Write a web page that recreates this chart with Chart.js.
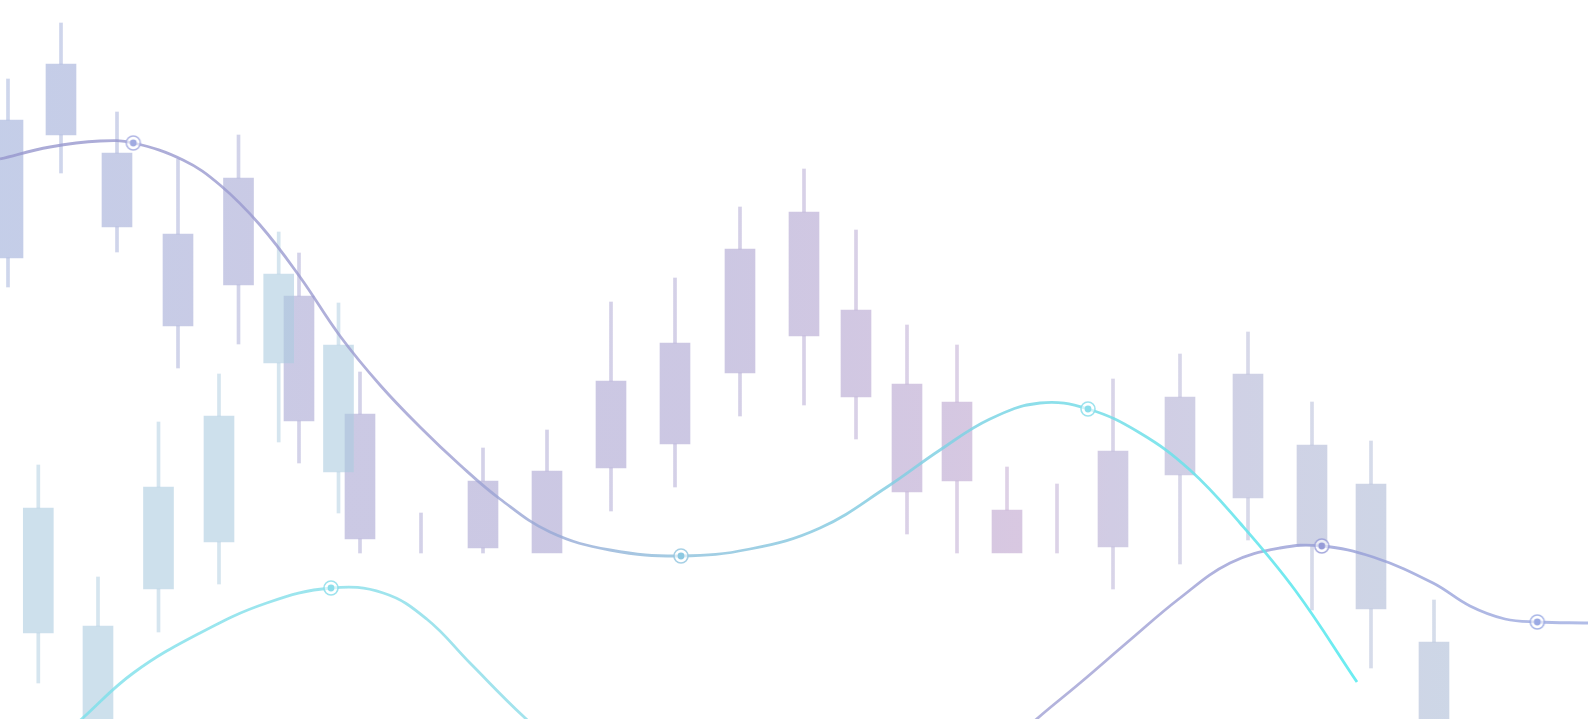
<!DOCTYPE html>
<html>
<head>
<meta charset="utf-8">
<script src="https://cdn.jsdelivr.net/npm/chart.js@4.4.1/dist/chart.umd.min.js"></script>
<style>
  html, body { margin: 0; padding: 0; background: #ffffff; overflow: hidden; }
  #wrap { width: 1588px; height: 719px; position: relative; }
</style>
</head>
<body>
<div id="wrap"><canvas id="c" width="1588" height="719"></canvas></div>
<script>
// ---- Data ----
// Main candle series (time units, price units)
const mainX     = [0.8, 6.1, 11.7, 17.8, 23.85, 29.9, 36.0, 42.1, 48.3, 54.7, 61.1, 67.5, 74.0, 80.4, 85.6, 90.7, 95.7, 100.7, 105.7, 111.3, 118.0, 124.8, 131.2, 137.1, 143.4];
const mainOpen  = [46.1, 58.4, 49.2, 39.3, 43.4, 29.8, 18.0, 16.6, 17.1, 16.6, 25.1, 27.5, 34.6, 38.3, 32.2, 22.7, 23.8, 16.6, 16.6, 17.2, 24.4, 22.1, 17.3, 11.0, -2.0];
const mainClose = [59.9, 65.5, 56.6, 48.5, 54.1, 42.3, 30.5, 16.6, 23.8, 24.8, 33.8, 37.6, 47.0, 50.7, 40.9, 33.5, 31.7, 20.9, 16.6, 26.8, 32.2, 34.5, 27.4, 23.5, 7.7];
const mainHigh  = [64.0, 69.6, 60.7, 56.0, 58.4, 46.6, 34.7, 20.6, 27.1, 28.9, 41.7, 44.1, 51.2, 55.0, 48.9, 39.4, 37.4, 25.2, 23.5, 34.0, 36.5, 38.7, 31.7, 27.8, 11.9];
const mainLow   = [43.2, 54.6, 46.7, 35.1, 37.5, 25.6, 16.6, 16.6, 16.6, 16.6, 20.8, 23.2, 30.3, 31.4, 28.0, 18.5, 16.6, 16.6, 16.6, 13.0, 15.5, 17.9, 10.9, 5.1, -6.0];

// Secondary (light) candle series
const lightX     = [3.83, 9.8, 15.85, 21.9, 27.87, 33.85];
const lightOpen  = [8.6, -3.0, 13.0, 17.7, 35.6, 24.7];
const lightClose = [21.1, 9.3, 23.2, 30.3, 44.5, 37.4];
const lightHigh  = [25.4, 14.2, 29.7, 34.5, 48.7, 41.6];
const lightLow   = [3.6, -7.0, 8.7, 13.5, 27.7, 20.6];

// Smooth line A
const lineAX = [0, 5, 10, 13.33, 18.3, 22, 26, 30, 34, 38, 42, 46, 50, 55, 61, 68.1, 75, 82, 88.7, 94, 99, 104, 108.8, 114, 119, 124, 129.5, 135.7];
const lineAY = [56.0, 57.2, 57.8, 57.6, 55.9, 53.4, 49.4, 44.2, 38.3, 33.4, 29.2, 25.4, 22.0, 18.7, 16.9, 16.3, 17.0, 19.1, 23.2, 26.9, 30.0, 31.6, 31.0, 28.6, 24.9, 19.6, 12.9, 3.7];
const lineAMarkers = [3, 15, 22];

// Smooth line B
const lineBX = [2, 8.17, 13.33, 20, 26.67, 33.1, 38.33, 42.67, 47, 52.3, 60, 70, 80, 90, 97, 103.67, 108, 113, 118, 123, 128, 132.17, 137.3, 143.3, 147, 150.5, 153.73, 158.8];
const lineBY = [-5.5, 0.0, 4.6, 8.6, 11.6, 13.1, 12.6, 10.0, 5.6, 0.3, -6.5, -12.0, -14.0, -11.0, -6.0, 0.0, 3.6, 7.9, 12.1, 15.6, 17.1, 17.3, 16.2, 13.6, 11.3, 10.0, 9.7, 9.6];
const lineBMarkers = [5, 21, 26];

// ---- Build datasets ----
function seg(x, a, b) { return a === b ? { x, y: null } : { x, y: [Math.min(a, b), Math.max(a, b)] }; }
function bodies(xs, o, c) { return xs.map((x, i) => seg(x, o[i], c[i])); }
function upper(xs, o, c, h) { return xs.map((x, i) => seg(x, Math.max(o[i], c[i]), h[i])); }
function lower(xs, o, c, l) { return xs.map((x, i) => seg(x, l[i], Math.min(o[i], c[i]))); }
function pts(xs, ys) { return xs.map((x, i) => ({ x, y: ys[i] })); }

const gradCache = {};
function hGrad(chart, key, stops) {
  const a = chart.chartArea;
  if (!a) return stops[0][1];
  const k = key + ':' + a.left + ':' + a.right;
  if (!gradCache[k]) {
    const g = chart.ctx.createLinearGradient(a.left, 0, a.right, 0);
    stops.forEach(([o, col]) => g.addColorStop(o, col));
    gradCache[k] = g;
  }
  return gradCache[k];
}

const mainStops = [
  [0.00, 'rgba(157,173,217,0.6)'],
  [0.10, 'rgba(162,170,214,0.6)'],
  [0.20, 'rgba(168,165,210,0.6)'],
  [0.45, 'rgba(170,162,208,0.6)'],
  [0.60, 'rgba(185,163,206,0.6)'],
  [0.64, 'rgba(190,163,205,0.6)'],
  [0.70, 'rgba(178,170,210,0.6)'],
  [0.80, 'rgba(175,180,212,0.6)'],
  [0.92, 'rgba(172,188,214,0.6)'],
  [1.00, 'rgba(172,188,214,0.6)']
];
const wickStops = mainStops.map(([o, c]) => [o, c.replace('0.6)', '0.5)')]);
const lightColor = 'rgba(172,203,223,0.6)';
const lightWick = 'rgba(172,203,223,0.5)';

const lineAStops = [
  [0.00, 'rgba(150,150,205,0.8)'],
  [0.28, 'rgba(158,158,210,0.8)'],
  [0.36, 'rgba(150,172,215,0.8)'],
  [0.43, 'rgba(140,192,220,0.8)'],
  [0.60, 'rgba(128,210,228,0.85)'],
  [0.70, 'rgba(115,222,232,0.85)'],
  [0.86, 'rgba(90,235,240,0.9)'],
  [1.00, 'rgba(90,235,240,0.9)']
];
const lineBStops = [
  [0.00, 'rgba(120,225,235,0.8)'],
  [0.33, 'rgba(140,220,232,0.8)'],
  [0.55, 'rgba(160,162,212,0.8)'],
  [0.70, 'rgba(160,160,212,0.8)'],
  [0.85, 'rgba(150,158,215,0.8)'],
  [1.00, 'rgba(158,172,225,0.8)']
];

function marker(ring, dot) {
  const c = document.createElement('canvas');
  c.width = 20; c.height = 20;
  const x = c.getContext('2d');
  x.beginPath(); x.arc(10, 10, 7, 0, Math.PI * 2);
  x.fillStyle = 'rgba(255,255,255,0.6)'; x.fill();
  x.lineWidth = 1.6; x.strokeStyle = ring; x.stroke();
  x.beginPath(); x.arc(10, 10, 3.4, 0, Math.PI * 2);
  x.fillStyle = dot; x.fill();
  return c;
}
const markersA = [
  marker('rgba(165,170,225,0.85)', 'rgba(160,170,225,1)'),
  marker('rgba(150,200,225,0.85)', 'rgba(140,200,225,1)'),
  marker('rgba(140,222,235,0.85)', 'rgba(140,222,235,1)')
];
const markersB = [
  marker('rgba(140,222,235,0.85)', 'rgba(140,222,235,1)'),
  marker('rgba(150,155,215,0.85)', 'rgba(150,155,215,1)'),
  marker('rgba(155,170,228,0.85)', 'rgba(155,170,228,1)')
];

function lineDS(xs, ys, key, stops, marks, imgs) {
  return {
    type: 'line',
    data: pts(xs, ys),
    borderColor: (ctx) => hGrad(ctx.chart, key, stops),
    borderWidth: 2.8,
    borderCapStyle: 'butt',
    fill: false,
    tension: 0.4,
    pointRadius: (ctx) => marks.includes(ctx.dataIndex) ? 8 : 0,
    pointStyle: (ctx) => { const k = marks.indexOf(ctx.dataIndex); return k >= 0 ? imgs[k] : 'circle'; },
    order: 0
  };
}

const mainFill = (ctx) => hGrad(ctx.chart, 'main', mainStops);
const mainWick = (ctx) => hGrad(ctx.chart, 'wick', wickStops);

const datasets = [
  lineDS(lineAX, lineAY, 'A', lineAStops, lineAMarkers, markersA),
  lineDS(lineBX, lineBY, 'B', lineBStops, lineBMarkers, markersB),
  { data: bodies(lightX, lightOpen, lightClose), backgroundColor: lightColor, barThickness: 30, order: 1 },
  { data: upper(lightX, lightOpen, lightClose, lightHigh), backgroundColor: lightWick, barThickness: 3, order: 1 },
  { data: lower(lightX, lightOpen, lightClose, lightLow), backgroundColor: lightWick, barThickness: 3, order: 1 },
  { data: bodies(mainX, mainOpen, mainClose), backgroundColor: mainFill, barThickness: 30, order: 2 },
  { data: upper(mainX, mainOpen, mainClose, mainHigh), backgroundColor: mainWick, barThickness: 3, order: 2 },
  { data: lower(mainX, mainOpen, mainClose, mainLow), backgroundColor: mainWick, barThickness: 3, order: 2 }
];

new Chart(document.getElementById('c'), {
  type: 'bar',
  data: { datasets },
  options: {
    responsive: false,
    animation: false,
    events: [],
    layout: { padding: 0 },
    datasets: { bar: { grouped: false, borderWidth: 0, borderSkipped: false } },
    plugins: { legend: { display: false }, tooltip: { enabled: false } },
    scales: {
      x: { type: 'linear', min: 0, max: 158.8, offset: false, display: false, grid: { display: false } },
      y: { type: 'linear', min: 0, max: 71.9, display: false, grid: { display: false } }
    }
  }
});
</script>
</body>
</html>
